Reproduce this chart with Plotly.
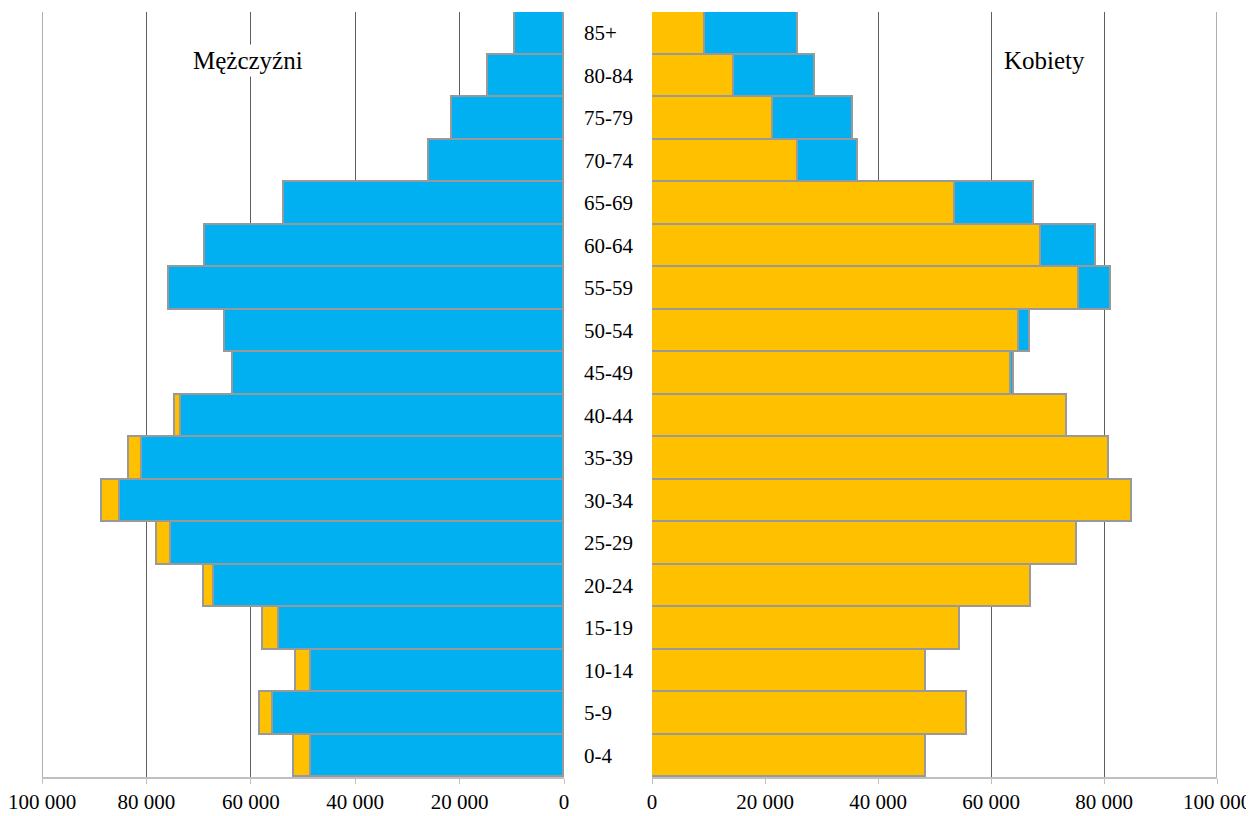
import plotly.graph_objects as go

ages = ['0-4', '5-9', '10-14', '15-19', '20-24', '25-29', '30-34', '35-39', '40-44',
        '45-49', '50-54', '55-59', '60-64', '65-69', '70-74', '75-79', '80-84', '85+']
men = [51700, 58300, 51300, 57600, 68900, 78000, 88600, 83300, 74600,
       63500, 65000, 75600, 68800, 53700, 25900, 21400, 14500, 9300]
women = [48500, 55700, 48500, 54600, 67000, 75200, 85000, 80900, 73400,
         64000, 66900, 81200, 78600, 67600, 36500, 35600, 28800, 25800]

tick_vals = [0, 20000, 40000, 60000, 80000, 100000]
tick_text = ['0', '20 000', '40 000', '60 000', '80 000', '100 000']

BLUE = '#00B0F0'
ORANGE = '#FFC000'
EDGE = '#999999'
GRID = '#5f5f5f'
FONT = 'Liberation Serif, Times New Roman, serif'

common = [min(m, w) for m, w in zip(men, women)]
men_extra = [(m - c) if m > c else None for m, c in zip(men, common)]
women_extra = [(w - c) if w > c else None for w, c in zip(women, common)]

# page has an 8px body margin; figure is placed at (8, 8)
OFF = 8
W, H = 1254 - OFF, 816 - OFF
# desired page-pixel plot box: x 42..1217, y 12..777
ML = 42 - OFF
MT = 12 - OFF
MR = W - (1217 - OFF)
MB = H - (777 - OFF)
PW = W - ML - MR
PH = H - MT - MB


def px_x(p):
    return (p - OFF - ML) / PW


def px_y(p):
    return (H - MB - (p - OFF)) / PH


fig = go.Figure()
line = dict(color=EDGE, width=1.75)
fig.add_trace(go.Bar(y=ages, x=common, orientation='h', marker=dict(color=BLUE, line=line),
                     xaxis='x', yaxis='y', hoverinfo='skip'))
fig.add_trace(go.Bar(y=ages, x=men_extra, orientation='h', marker=dict(color=ORANGE, line=line),
                     xaxis='x', yaxis='y', hoverinfo='skip'))
fig.add_trace(go.Bar(y=ages, x=common, orientation='h', marker=dict(color=ORANGE, line=line),
                     xaxis='x2', yaxis='y2', hoverinfo='skip'))
fig.add_trace(go.Bar(y=ages, x=women_extra, orientation='h', marker=dict(color=BLUE, line=line),
                     xaxis='x2', yaxis='y2', hoverinfo='skip'))

xcommon = dict(tickvals=tick_vals, ticktext=tick_text, showgrid=True, gridcolor=GRID,
               gridwidth=1, zeroline=False, showline=True, linecolor='#bfbfbf', linewidth=1.5,
               ticks='outside', ticklen=5, tickcolor='#bfbfbf', tickwidth=1,
               tickfont=dict(family=FONT, size=21, color='black'), automargin=False,
               ticklabeloverflow='allow', fixedrange=True)
ycommon = dict(type='category', categoryorder='array', categoryarray=ages,
               range=[-0.5, len(ages) - 0.5], showticklabels=False, showgrid=False,
               zeroline=False, showline=False, ticks='', automargin=False, fixedrange=True)

fig.update_layout(
    width=W, height=H,
    margin=dict(l=ML, r=MR, t=MT, b=MB),
    paper_bgcolor='white', plot_bgcolor='white',
    barmode='stack', bargap=0, showlegend=False,
    font=dict(family=FONT, color='black'),
    xaxis=dict(domain=[0, px_x(564)], range=[100000, 0], anchor='y', **xcommon),
    xaxis2=dict(domain=[px_x(652), 1], range=[0, 100000], anchor='y2', **xcommon),
    yaxis=dict(domain=[0, 1], anchor='x', **ycommon),
    yaxis2=dict(domain=[0, 1], anchor='x2', **ycommon),
)

# outer gridlines at the 100 000 edges of both panels
for xr in ('x', 'x2'):
    fig.add_shape(type='line', xref=xr, yref='paper', x0=tick_vals[-1], x1=tick_vals[-1],
                  y0=0, y1=1, line=dict(color=GRID, width=1), layer='below')

for a in ages:
    fig.add_annotation(x=px_x(582), xref='paper', y=a, yref='y', text=a, showarrow=False,
                       xanchor='left', yanchor='middle',
                       font=dict(family=FONT, size=21, color='black'))

fig.add_annotation(x=px_x(247.5), xref='paper', y=px_y(60), yref='paper', text='Mężczyźni',
                   showarrow=False, xanchor='center', yanchor='middle', bgcolor='white',
                   borderpad=2, font=dict(family=FONT, size=25, color='black'))
fig.add_annotation(x=px_x(1044), xref='paper', y=px_y(61), yref='paper', text='Kobiety',
                   showarrow=False, xanchor='center', yanchor='middle', bgcolor='white',
                   borderpad=2, font=dict(family=FONT, size=25, color='black'))

fig.write_html('out.html')
